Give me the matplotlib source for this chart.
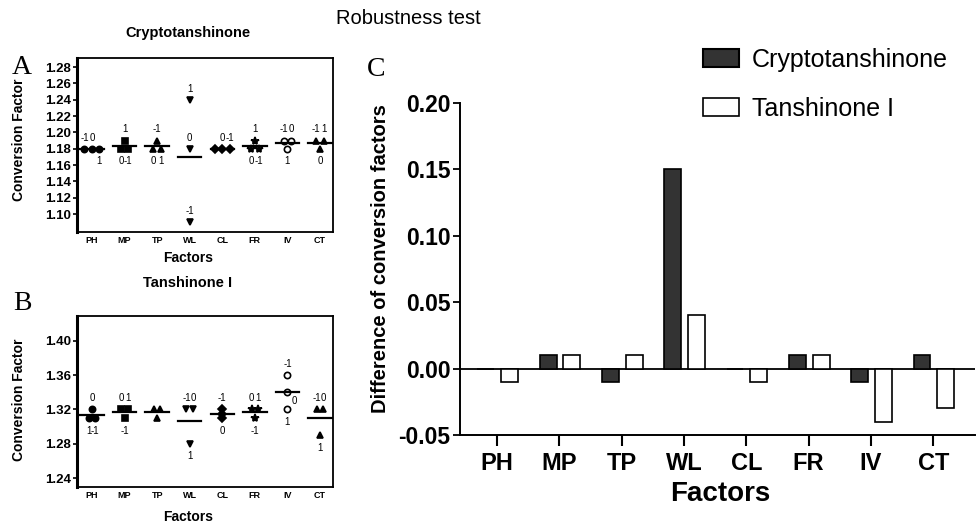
import numpy as np
import matplotlib
matplotlib.use("Agg")
import matplotlib.pyplot as plt
from matplotlib.patches import Patch

plt.rcParams['font.family'] = ['Liberation Sans', 'DejaVu Sans']
plt.rcParams['axes.unicode_minus'] = False

# ============================================================
# Data
# ============================================================
factors = ["PH", "MP", "TP", "WL", "CL", "FR", "IV", "CT"]

# panel A - Cryptotanshinone, conversion factor at each level (display order)
crypto_levels = [["-1", "0", "1"], ["1", "0", "-1"], ["-1", "0", "1"], ["1", "0", "-1"],
                 ["", "0", "-1"], ["1", "0", "-1"], ["-1", "0", "1"], ["-1", "1", "0"]]
crypto_values = [[1.18, 1.18, 1.18], [1.19, 1.18, 1.18], [1.19, 1.18, 1.18], [1.24, 1.18, 1.09],
                 [1.18, 1.18, 1.18], [1.19, 1.18, 1.18], [1.19, 1.19, 1.18], [1.19, 1.19, 1.18]]

# panel B - Tanshinone I
tansh_levels = [["0", "1", "-1"], ["0", "1", "-1"], ["", "", ""], ["-1", "0", "1"],
                ["-1", "", "0"], ["0", "1", "-1"], ["-1", "0", "1"], ["-1", "0", "1"]]
tansh_values = [[1.32, 1.31, 1.31], [1.32, 1.32, 1.31], [1.32, 1.32, 1.31], [1.32, 1.32, 1.28],
                [1.32, 1.315, 1.31], [1.32, 1.32, 1.31], [1.36, 1.34, 1.32], [1.32, 1.32, 1.29]]

# panel C - difference of conversion factors
crypto_diff = [0.00, 0.01, -0.01, 0.15, 0.00, 0.01, -0.01, 0.01]
tansh_diff = [-0.01, 0.01, 0.01, 0.04, -0.01, 0.01, -0.04, -0.03]

# ============================================================
# Layout / style
# ============================================================
crypto_sides = [["a", "a", "b"], ["a", "b", "b"], ["a", "b", "b"], ["a", "a", "a"],
                ["a", "a", "a"], ["a", "b", "b"], ["a", "a", "b"], ["a", "a", "b"]]
tansh_sides = [["a", "b", "b"], ["a", "a", "b"], ["a", "a", "b"], ["a", "a", "b"],
               ["a", "a", "b"], ["a", "a", "b"], ["a", "r", "b"], ["a", "a", "b"]]
markers = ['o', 's', '^', 'v', 'D', '*', 'o', '^']
faces = ['black', 'black', 'black', 'black', 'black', 'black', 'white', 'black']
OFFSETS = {'a': (0, 8), 'b': (0, -9), 'r': (5, -6)}


def spread(vals, step):
    offs = np.zeros(len(vals))
    groups = {}
    for i, v in enumerate(vals):
        groups.setdefault(round(v, 4), []).append(i)
    for idx in groups.values():
        n = len(idx)
        for k, i in enumerate(idx):
            offs[i] = (k - (n - 1) / 2) * step
    return offs


def scatter_panel(ax, levels, values, sides, step):
    for i, (lv, vals, sd) in enumerate(zip(levels, values, sides)):
        offs = spread(vals, step)
        for o, v, lab, s in zip(offs, vals, lv, sd):
            ax.plot(i + o, v, marker=markers[i], ms=4.5 if markers[i] != '*' else 6,
                    mfc=faces[i], mec='black', mew=1.2, ls='none')
            if lab:
                ax.annotate(lab, (i + o, v), xytext=OFFSETS[s], textcoords='offset points',
                            ha='center', va='center', fontsize=7)
        m = np.mean(vals)
        ax.plot([i - 0.36, i + 0.36], [m, m], color='black', lw=1.6)
    ax.set_xticks(range(len(factors)))
    ax.set_xticklabels(factors, fontsize=6.5, fontweight='bold')
    ax.tick_params(axis='x', length=0, pad=3)
    ax.tick_params(axis='y', length=3, width=1.2, pad=1.5, labelsize=9.5)
    for lab in ax.get_yticklabels():
        lab.set_fontweight('bold')
    for sp in ax.spines.values():
        sp.set_linewidth(1.3)
    ax.spines['left'].set_linewidth(2.2)
    ax.set_xlim(-0.46, 7.4)


fig = plt.figure(figsize=(9.76, 5.26), dpi=100)

# ---------------- panel A ----------------
axa = fig.add_axes([0.0789, 0.5589, 0.2623, 0.3308])
axa.set_ylim(1.078, 1.291)
axa.set_yticks(np.arange(1.10, 1.285, 0.02))
axa.set_yticklabels([f"{t:.2f}" for t in np.arange(1.10, 1.285, 0.02)])
scatter_panel(axa, crypto_levels, crypto_values, crypto_sides, 0.23)
axa.set_ylabel("Conversion Factor", fontsize=10, fontweight='bold')
axa.yaxis.set_label_coords(-0.2, 0.53)
axa.set_xlabel("Factors", fontsize=10, fontweight='bold')
axa.xaxis.set_label_coords(0.434, -0.11)
fig.text(188 / 976, 1 - 33 / 526, "Cryptotanshinone", ha='center', va='center',
         fontsize=10.5, fontweight='bold')
fig.text(22 / 976, 1 - 68 / 526, "A", ha='center', va='center', fontsize=20,
         family=['Liberation Serif', 'DejaVu Serif'])

# ---------------- panel B ----------------
axb = fig.add_axes([0.0789, 0.0741, 0.2623, 0.3251])
axb.set_ylim(1.2295, 1.429)
axb.set_yticks(np.arange(1.24, 1.401, 0.04))
axb.set_yticklabels([f"{t:.2f}" for t in np.arange(1.24, 1.401, 0.04)])
scatter_panel(axb, tansh_levels, tansh_values, tansh_sides, 0.2)
axb.set_ylabel("Conversion Factor", fontsize=10, fontweight='bold')
axb.yaxis.set_label_coords(-0.2, 0.51)
axb.set_xlabel("Factors", fontsize=10, fontweight='bold')
axb.xaxis.set_label_coords(0.434, -0.135)
fig.text(188 / 976, 1 - 283 / 526, "Tanshinone I", ha='center', va='center',
         fontsize=10.5, fontweight='bold')
fig.text(22 / 976, 1 - 303 / 526, "B", ha='center', va='center', fontsize=20,
         family=['Liberation Serif', 'DejaVu Serif'])

# ---------------- panel C ----------------
axc = fig.add_axes([0.4713, 0.1730, 0.5277, 0.6312])
x = np.arange(len(factors))
axc.bar(x - 0.18, crypto_diff, 0.27, color='#333333', edgecolor='black', lw=1.2, zorder=3)
axc.bar(x + 0.20, tansh_diff, 0.27, color='white', edgecolor='black', lw=1.2, zorder=3)
axc.axhline(0, color='black', lw=1.3, zorder=2)
axc.set_xlim(-0.594, 7.67)
axc.set_ylim(-0.05, 0.20)
yt = [-0.05, 0.00, 0.05, 0.10, 0.15, 0.20]
axc.set_yticks(yt)
axc.set_yticklabels([f"{t:.2f}" for t in yt], fontsize=16.5, fontweight='bold')
axc.set_xticks(x)
axc.set_xticklabels(factors, fontsize=17, fontweight='bold')
axc.tick_params(axis='x', length=8, width=1.5, pad=4)
axc.tick_params(axis='y', length=5, width=1.3, pad=2)
axc.spines['top'].set_visible(False)
axc.spines['right'].set_visible(False)
axc.spines['left'].set_linewidth(1.4)
axc.spines['bottom'].set_linewidth(1.4)
axc.set_ylabel("Difference of conversion factors", fontsize=14.5, fontweight='bold')
axc.yaxis.set_label_coords(-0.136, 0.53)
axc.set_xlabel("Factors", fontsize=20, fontweight='bold')
axc.xaxis.set_label_coords(0.505, -0.14)
fig.text(376 / 976, 1 - 70 / 526, "C", ha='center', va='center', fontsize=20,
         family=['Liberation Serif', 'DejaVu Serif'])

handles = [Patch(facecolor='#333333', edgecolor='black', lw=1.5, label="Cryptotanshinone"),
           Patch(facecolor='white', edgecolor='black', lw=1.2, label="Tanshinone I")]
fig.legend(handles=handles, loc='upper left', bbox_to_anchor=(703 / 976, 1 - 48 / 526),
           frameon=False, fontsize=18, handlelength=1.45, handleheight=0.75,
           handletextpad=0.5, labelspacing=1.0, borderpad=0, borderaxespad=0)

fig.text(408 / 976, 1 - 18 / 526, "Robustness test", ha='center', va='center', fontsize=14.5)

fig.savefig("out.png", dpi=100)
